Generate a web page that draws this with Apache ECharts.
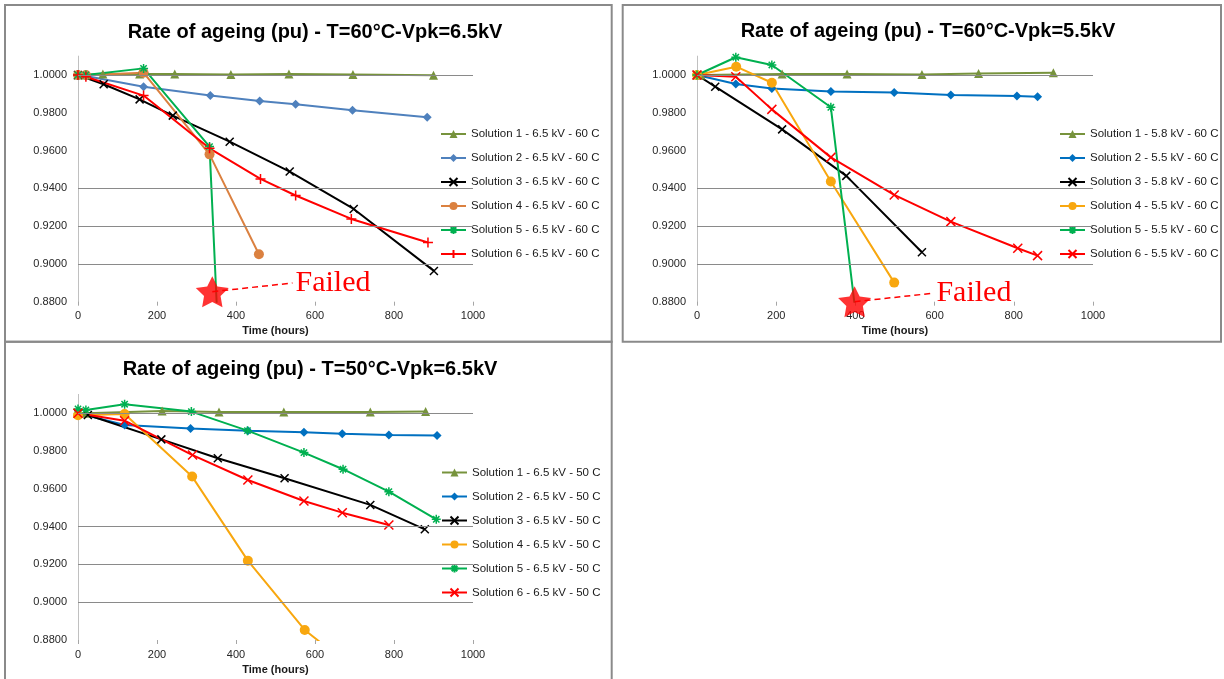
<!DOCTYPE html>
<html>
<head>
<meta charset="utf-8">
<script src="https://cdn.jsdelivr.net/npm/echarts@6/dist/echarts.min.js"></script>
<style>
html,body{margin:0;padding:0;background:#fff;}
#main{width:1224px;height:679px;}
</style>
</head>
<body>
<div id="main"></div>
<script>
// ---------- Titles / labels ----------
const titles = [
  'Rate of ageing (pu) - T=60°C-Vpk=6.5kV',
  'Rate of ageing (pu) - T=60°C-Vpk=5.5kV',
  'Rate of ageing (pu) - T=50°C-Vpk=6.5kV'
];
const xAxisName = 'Time (hours)';
const xTicks = [0, 200, 400, 600, 800, 1000];
const yTicks = [0.88, 0.90, 0.92, 0.94, 0.96, 0.98, 1.00];
const visibleGridValues = [1.00, 0.94, 0.92, 0.90];

const names1 = ['Solution 1 - 6.5 kV - 60 C','Solution 2 - 6.5 kV - 60 C','Solution 3 - 6.5 kV - 60 C','Solution 4 - 6.5 kV - 60 C','Solution 5 - 6.5 kV - 60 C','Solution 6 - 6.5 kV - 60 C'];
const names2 = ['Solution 1 - 5.8 kV - 60 C','Solution 2 - 5.5 kV - 60 C','Solution 3 - 5.8 kV - 60 C','Solution 4 - 5.5 kV - 60 C','Solution 5 - 5.5 kV - 60 C','Solution 6 - 5.5 kV - 60 C'];
const names3 = ['Solution 1 - 6.5 kV - 50 C','Solution 2 - 6.5 kV - 50 C','Solution 3 - 6.5 kV - 50 C','Solution 4 - 6.5 kV - 50 C','Solution 5 - 6.5 kV - 50 C','Solution 6 - 6.5 kV - 50 C'];

// ---------- Chart 1 data: [hours, pu] ----------
const c1S1 = [[0,1.0],[20,1.0],[63,1.0005],[156,1.0005],[245,1.0005],[387,1.0003],[534,1.0005],[696,1.0003],[900,0.9998]];
const c1S2 = [[0,1.0],[20,0.9995],[166,0.9938],[335,0.9891],[460,0.9862],[551,0.9845],[695,0.9813],[884,0.9776]];
const c1S3 = [[0,1.0],[65,0.9951],[156,0.9871],[240,0.9785],[384,0.9647],[536,0.9489],[698,0.9291],[901,0.8963]];
const c1S4 = [[0,1.0],[20,1.0],[166,1.0012],[333,0.958],[458,0.9051]];
const c1S5 = [[0,1.0],[20,1.0],[166,1.0035],[333,0.9621],[352,0.875]];
const c1S6 = [[0,1.0],[20,0.9991],[166,0.9891],[333,0.9612],[462,0.945],[551,0.9362],[692,0.9238],[886,0.9113]];

// ---------- Chart 2 data ----------
const c2S1 = [[0,1.0],[10,1.0],[215,1.0005],[379,1.0005],[568,1.0003],[711,1.0008],[900,1.0012]];
const c2S2 = [[0,1.0],[98,0.9952],[189,0.9929],[338,0.9912],[498,0.9907],[641,0.9894],[808,0.9889],[860,0.9885]];
const c2S3 = [[0,1.0],[46,0.9938],[215,0.9712],[377,0.9466],[568,0.9062]];
const c2S4 = [[0,1.0],[99,1.0044],[189,0.9959],[338,0.9436],[498,0.8901]];
const c2S5 = [[0,1.0],[98,1.0094],[189,1.0053],[338,0.9829],[400,0.875]];
const c2S6 = [[0,1.0],[98,0.9991],[189,0.9818],[338,0.9564],[498,0.9365],[641,0.9224],[810,0.9083],[860,0.9044]];

// ---------- Chart 3 data ----------
const c3S1 = [[0,1.0],[20,1.0],[213,1.0012],[357,1.0007],[521,1.0007],[740,1.0007],[880,1.001]];
const c3S2 = [[0,1.0],[118,0.9938],[285,0.992],[430,0.9908],[572,0.9899],[669,0.9892],[787,0.9885],[909,0.9882]];
const c3S3 = [[0,1.0],[25,0.9991],[211,0.9862],[354,0.9762],[523,0.9656],[740,0.9515],[878,0.9386]];
const c3S4 = [[0,0.999],[118,0.9996],[289,0.9665],[430,0.922],[574,0.8853],[715,0.862]];
const c3S5 = [[0,1.0023],[20,1.0018],[118,1.0048],[287,1.0009],[429,0.9908],[572,0.9792],[671,0.9704],[787,0.9585],[907,0.9439]];
const c3S6 = [[0,1.0],[118,0.9961],[290,0.9779],[430,0.9647],[572,0.9536],[669,0.9474],[787,0.9409]];

// ---------- "Failed" annotations ----------
const failStar1 = [340, 0.8853];
const failText1 = [543, 0.8899];
const failStar2 = [398, 0.8800];
const failText2 = [597, 0.8845];
const failLabel = 'Failed';

// ---------- Styles ----------
const X_PATH = 'path://M0,0L10,10M10,0L0,10';
const AST_PATH = 'path://M5,0L5,10M0,5L10,5M1.5,1.5L8.5,8.5M8.5,1.5L1.5,8.5';
const PLUS_PATH = 'path://M5,0L5,10M0,5L10,5';
const STAR_PATH = 'path://M50,0L64.69,29.77L97.55,34.55L73.78,57.73L79.39,90.45L50,75L20.61,90.45L26.22,57.73L2.45,34.55L35.31,29.77Z';

const FONT = '"Liberation Sans", Arial, sans-serif';

function mk(name, data, color, symbol, size, idx, stroked) {
  return {
    name: name, type: 'line', data: data,
    xAxisIndex: idx, yAxisIndex: idx,
    symbol: symbol, symbolSize: size, showAllSymbol: true,
    lineStyle: { color: color, width: 2 },
    itemStyle: { color: stroked ? 'rgba(0,0,0,0)' : color, borderColor: color, borderWidth: stroked ? 1.5 : 0 },
    emphasis: { disabled: true },
    animation: false, z: 3
  };
}

function gridSeries(idx) {
  return {
    type: 'line', data: [], xAxisIndex: idx, yAxisIndex: idx, silent: true, z: 1,
    markLine: {
      silent: true, symbol: ['none','none'], animation: false,
      label: { show: false },
      lineStyle: { color: '#8a8a8a', width: 1, type: 'solid' },
      data: visibleGridValues.map(v => ({ yAxis: v }))
    }
  };
}

function failSeries(idx, star, txt) {
  return [
    { type: 'line', data: [star, txt], xAxisIndex: idx, yAxisIndex: idx, symbol: 'none', clip: false, silent: true, z: 4,
      lineStyle: { color: '#ff0000', width: 1.5, type: [6, 4] },
      endLabel: { show: true, formatter: failLabel, color: '#ff0000', fontFamily: '"Liberation Serif", "Times New Roman", serif', fontSize: 30, distance: 3 },
      animation: false },
    { type: 'scatter', data: [star], xAxisIndex: idx, yAxisIndex: idx, symbol: STAR_PATH, symbolSize: [33, 31], clip: false, silent: true, z: 5,
      itemStyle: { color: '#ff0000' }, animation: false }
  ];
}

const grids = [
  { left: 78, top: 56.1, width: 395, height: 245.6 },
  { left: 697, top: 56.1, width: 396, height: 245.6 },
  { left: 78, top: 394.4, width: 395, height: 245.6 }
];

const xAxes = grids.map((g, i) => ({
  type: 'value', gridIndex: i, min: xTicks[0], max: xTicks[xTicks.length - 1], interval: xTicks[1] - xTicks[0],
  axisLine: { show: false },
  axisTick: { show: true, length: 4, lineStyle: { color: '#a6a6a6' } },
  axisLabel: { fontSize: 11, color: '#262626', fontFamily: FONT, margin: 9, formatter: v => String(v) },
  splitLine: { show: false },
  name: xAxisName, nameLocation: 'middle', nameGap: 24,
  nameTextStyle: { fontSize: 11, fontWeight: 'bold', color: '#1a1a1a', fontFamily: FONT }
}));

const yAxes = grids.map((g, i) => ({
  type: 'value', gridIndex: i, min: yTicks[0], max: 1.01, interval: yTicks[1] - yTicks[0],
  axisLine: { show: true, lineStyle: { color: '#c0c0c0', width: 1 } },
  axisTick: { show: false },
  axisLabel: { fontSize: 11, color: '#262626', fontFamily: FONT, margin: 11,
    formatter: v => (v > 1.0001 ? '' : v.toFixed(4)) },
  splitLine: { show: false }
}));

const col1 = ['#77933C', '#4F81BD', '#000000', '#DB8140', '#00B050', '#FF0000'];
const col2 = ['#77933C', '#0070C0', '#000000', '#F8A70F', '#00B050', '#FF0000'];

const series = [
  gridSeries(0), gridSeries(1), gridSeries(2),
  mk(names1[0], c1S1, col1[0], 'triangle', 9, 0, false),
  mk(names1[1], c1S2, col1[1], 'diamond', 9, 0, false),
  mk(names1[2], c1S3, col1[2], X_PATH, 8, 0, true),
  mk(names1[3], c1S4, col1[3], 'circle', 10, 0, false),
  mk(names1[4], c1S5, col1[4], AST_PATH, 9, 0, true),
  mk(names1[5], c1S6, col1[5], PLUS_PATH, 10, 0, true),

  mk(names2[0], c2S1, col2[0], 'triangle', 9, 1, false),
  mk(names2[1], c2S2, col2[1], 'diamond', 9, 1, false),
  mk(names2[2], c2S3, col2[2], X_PATH, 8, 1, true),
  mk(names2[3], c2S4, col2[3], 'circle', 10, 1, false),
  mk(names2[4], c2S5, col2[4], AST_PATH, 9, 1, true),
  mk(names2[5], c2S6, col2[5], X_PATH, 9, 1, true),

  mk(names3[0], c3S1, col2[0], 'triangle', 9, 2, false),
  mk(names3[1], c3S2, col2[1], 'diamond', 9, 2, false),
  mk(names3[2], c3S3, col2[2], X_PATH, 8, 2, true),
  mk(names3[3], c3S4, col2[3], 'circle', 10, 2, false),
  mk(names3[4], c3S5, col2[4], AST_PATH, 9, 2, true),
  mk(names3[5], c3S6, col2[5], X_PATH, 9, 2, true)
].concat(failSeries(0, failStar1, failText1), failSeries(1, failStar2, failText2));

function legend(names, left, top) {
  return {
    data: names, orient: 'vertical', left: left, top: top, padding: 0,
    itemWidth: 25, itemHeight: 10, itemGap: 10, selectedMode: false,
    textStyle: { fontSize: 11.5, color: '#1a1a1a', fontFamily: FONT, lineHeight: 14 }
  };
}

const panelStyle = { fill: null, stroke: '#8a8a8a', lineWidth: 2 };
const graphic = [
  { type: 'rect', shape: { x: 5, y: 5, width: 606.7, height: 336.7 }, style: panelStyle, silent: true },
  { type: 'rect', shape: { x: 622.7, y: 5, width: 598.3, height: 336.7 }, style: panelStyle, silent: true },
  { type: 'rect', shape: { x: 5, y: 341.7, width: 606.7, height: 400 }, style: panelStyle, silent: true },
  { type: 'text', x: 315, y: 32, style: { text: titles[0], font: 'bold 20px ' + FONT, textAlign: 'center', textVerticalAlign: 'middle', fill: '#000' } },
  { type: 'text', x: 928, y: 31, style: { text: titles[1], font: 'bold 20px ' + FONT, textAlign: 'center', textVerticalAlign: 'middle', fill: '#000' } },
  { type: 'text', x: 310, y: 369, style: { text: titles[2], font: 'bold 20px ' + FONT, textAlign: 'center', textVerticalAlign: 'middle', fill: '#000' } }
];

const chart = echarts.init(document.getElementById('main'), null, { renderer: 'canvas' });
chart.setOption({
  animation: false,
  backgroundColor: '#ffffff',
  grid: grids,
  xAxis: xAxes,
  yAxis: yAxes,
  legend: [legend(names1, 440, 127), legend(names2, 1059, 127), legend(names3, 441, 465.5)],
  series: series,
  graphic: graphic
});
</script>
</body>
</html>
